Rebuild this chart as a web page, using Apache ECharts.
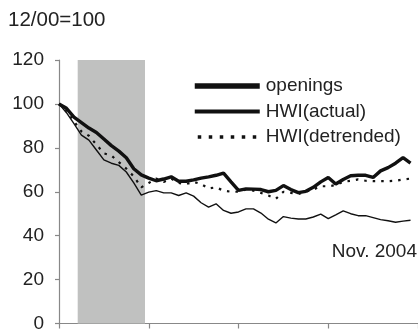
<!DOCTYPE html>
<html>
<head>
<meta charset="utf-8">
<script src="https://cdn.jsdelivr.net/npm/echarts@6/dist/echarts.min.js"></script>
<style>
  html, body { margin: 0; padding: 0; background: #fff; }
  #chart { width: 418px; height: 333px; }
</style>
</head>
<body>
<div id="chart"></div>
<script>
// Monthly index, Dec 2000 = 100, running Dec 2000 .. Nov 2004
const months = [
  'Dec 00','Jan 01','Feb 01','Mar 01','Apr 01','May 01','Jun 01','Jul 01','Aug 01','Sep 01','Oct 01','Nov 01',
  'Dec 01','Jan 02','Feb 02','Mar 02','Apr 02','May 02','Jun 02','Jul 02','Aug 02','Sep 02','Oct 02','Nov 02',
  'Dec 02','Jan 03','Feb 03','Mar 03','Apr 03','May 03','Jun 03','Jul 03','Aug 03','Sep 03','Oct 03','Nov 03',
  'Dec 03','Jan 04','Feb 04','Mar 04','Apr 04','May 04','Jun 04','Jul 04','Aug 04','Sep 04','Oct 04','Nov 04'
];

const openings = [
  100, 98, 94, 91.5, 89, 87, 84, 81, 78.5, 75.5, 70.5, 67.7,
  66.2, 65, 65.8, 66.8, 64.8, 64.8, 65.4, 66.2, 66.8, 67.5, 68.5, 64.5,
  60.6, 61.3, 61.2, 61, 60, 60.6, 62.8, 61, 59.6, 60.2, 62, 64.5,
  66.5, 63.5, 65.6, 67.3, 67.5, 67.5, 66.5, 69.5, 71, 73, 75.5, 73
];

const hwiActual = [
  100, 96, 91, 85.8, 83.5, 79, 74.5, 73, 72, 69, 64, 58.5,
  59.8, 60.5, 59.5, 59.5, 58.3, 59.5, 58, 55, 53, 54.5, 51.5, 50.2,
  50.8, 52.2, 52.2, 50.3, 47.5, 45.8, 48.7, 48, 47.6, 47.6, 48.5, 49.8,
  47.8, 49.5, 51.3, 50, 49.1, 49.1, 48.2, 47.3, 46.8, 46.1, 46.6, 47
];

const hwiDetrended = [
  100, 97, 92, 87.5, 85.5, 81.5, 77.5, 76.5, 73.5, 70.5, 67, 62,
  64, 66, 64.5, 66, 64, 63.5, 64.5, 63.5, 61.5, 62, 60.5, 60,
  60, 61, 60.5, 59.5, 58.3, 56.8, 60, 59.5, 59, 60, 61, 62.5,
  62.5, 63, 64.5, 65, 65.6, 65, 64.8, 64.8, 64.8, 65, 65.6, 66
];

// Recession band, in month positions (Mar 2001 .. Nov 2001)
const recession = [2.5, 11.5];

const yTicks = { min: 0, max: 120, step: 20 };

const toPairs = arr => arr.map((v, i) => [i, v]);
const ink = '#111';
const textColor = '#222';
const fontFamily = '"Liberation Sans", Arial, sans-serif';

const chart = echarts.init(document.getElementById('chart'), null, { renderer: 'canvas' });

chart.setOption({
  animation: false,
  backgroundColor: '#fff',
  color: [ink, ink, ink],
  title: {
    text: '12/00=100',
    left: 8,
    top: 10,
    padding: 0,
    textStyle: { fontFamily, fontSize: 20.5, fontWeight: 'normal', color: textColor }
  },
  legend: {
    orient: 'vertical',
    left: 192,
    top: 76,
    padding: 0,
    itemWidth: 65,
    itemHeight: 14,
    itemGap: 5.5,
    itemStyle: { opacity: 0 },
    textStyle: { fontFamily, fontSize: 19, lineHeight: 20, color: textColor, padding: [0, 0, 0, 1] },
    data: [
      { name: 'openings', lineStyle: { width: 5.5, color: ink } },
      { name: 'HWI(actual)', lineStyle: { width: 4, color: ink } },
      { name: 'HWI(detrended)', lineStyle: { width: 3.5, color: ink, type: [3.5, 7.5], dashOffset: -3 } }
    ]
  },
  grid: { left: 59, top: 60, width: 372, height: 269 },
  xAxis: {
    type: 'value',
    min: 0,
    max: 48,
    interval: 12,
    axisLine: { show: true, lineStyle: { color: '#888', width: 1.2 } },
    axisTick: { show: true, length: 5, lineStyle: { color: '#888', width: 1.2 } },
    axisLabel: { show: false },
    splitLine: { show: false }
  },
  yAxis: {
    type: 'value',
    min: yTicks.min,
    max: yTicks.max,
    interval: yTicks.step,
    axisLine: { show: true, lineStyle: { color: '#888', width: 1.2 } },
    axisTick: { show: true, length: 4, lineStyle: { color: '#888', width: 1.2 } },
    axisLabel: { fontFamily, fontSize: 19, color: textColor, margin: 15 },
    splitLine: { show: false }
  },
  graphic: [{
    type: 'text',
    right: 1,
    top: 242,
    style: { text: 'Nov. 2004', fontFamily, fontSize: 19, fill: textColor }
  }],
  series: [
    {
      name: 'HWI(detrended)',
      type: 'line',
      symbol: 'none',
      z: 3,
      itemStyle: { color: ink },
      lineStyle: { color: ink, width: 2.2, type: [2.5, 6] },
      data: toPairs(hwiDetrended),
      markArea: {
        silent: true,
        itemStyle: { color: '#c0c1c0', opacity: 1 },
        data: [[{ xAxis: recession[0] }, { xAxis: recession[1] }]]
      }
    },
    {
      name: 'HWI(actual)',
      type: 'line',
      symbol: 'none',
      z: 4,
      itemStyle: { color: ink },
      lineStyle: { color: ink, width: 1.4 },
      data: toPairs(hwiActual)
    },
    {
      name: 'openings',
      type: 'line',
      symbol: 'none',
      z: 5,
      itemStyle: { color: ink },
      lineStyle: { color: ink, width: 3.4 },
      data: toPairs(openings)
    }
  ]
});
</script>
</body>
</html>
